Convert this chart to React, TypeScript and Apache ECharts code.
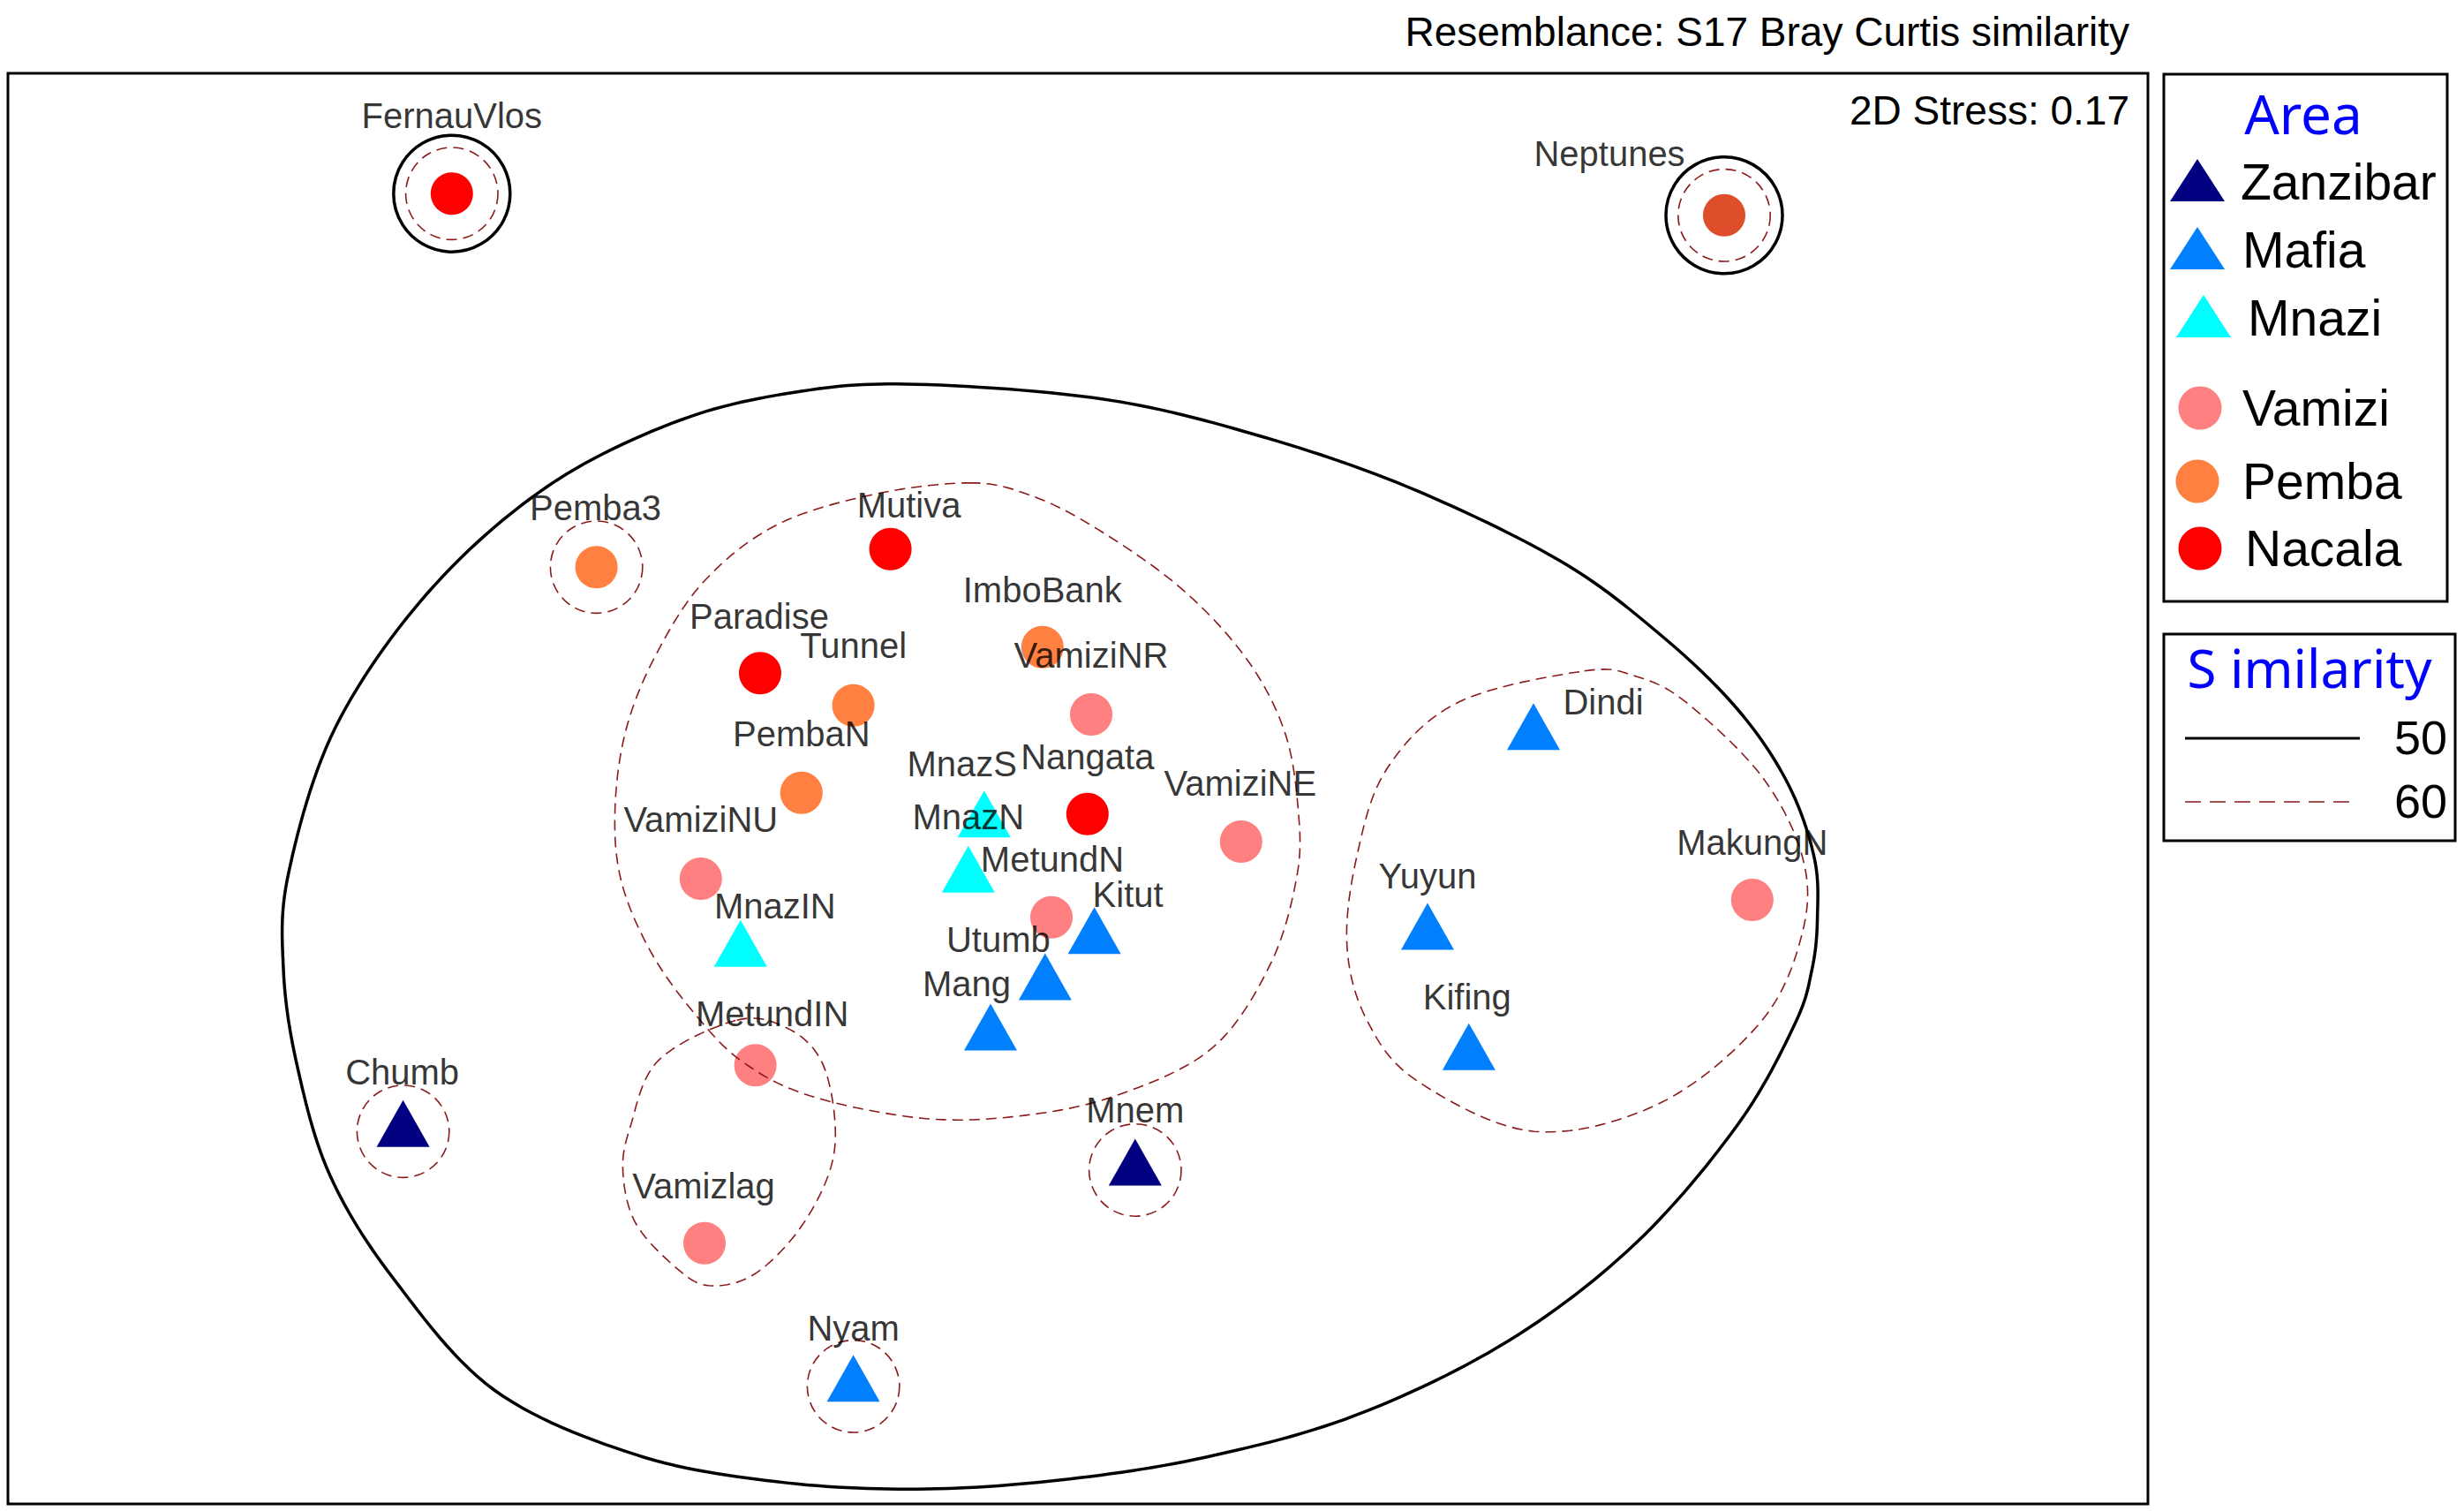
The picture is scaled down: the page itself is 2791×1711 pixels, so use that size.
import React, { useEffect, useRef } from "react";
import * as echarts from "echarts";

// ---- nMDS site coordinates (arbitrary MDS units) ----
const siteNames = ["FernauVlos", "Neptunes", "Pemba3", "Mutiva", "Paradise", "Tunnel", "ImboBank", "VamiziNR", "PembaN", "MnazS", "Nangata", "VamiziNE", "VamiziNU", "MnazN", "MetundN", "Kitut", "MnazIN", "Utumb", "Mang", "MetundIN", "Chumb", "Vamizlag", "Mnem", "Nyam", "Dindi", "Yuyun", "Kifing", "MakungN"];
const siteX = [-1.18, 1.222, -0.907, -0.352, -0.598, -0.422, -0.065, 0.027, -0.52, -0.175, 0.02, 0.31, -0.71, -0.205, -0.048, 0.033, -0.635, -0.06, -0.163, -0.607, -1.272, -0.703, 0.11, -0.422, 0.862, 0.662, 0.74, 1.275];
const siteY = [1.118, 1.077, 0.413, 0.447, 0.213, 0.152, 0.262, 0.135, -0.013, -0.068, -0.053, -0.105, -0.175, -0.172, -0.248, -0.288, -0.312, -0.375, -0.47, -0.527, -0.652, -0.863, -0.725, -1.133, 0.097, -0.28, -0.507, -0.215];
const siteArea = ["Nacala", "Nacala", "Pemba", "Nacala", "Nacala", "Pemba", "Pemba", "Vamizi", "Pemba", "Mnazi", "Nacala", "Vamizi", "Vamizi", "Mnazi", "Vamizi", "Mafia", "Mnazi", "Mafia", "Mafia", "Vamizi", "Zanzibar", "Vamizi", "Zanzibar", "Mafia", "Mafia", "Mafia", "Mafia", "Vamizi"];

// ---- legend / groups ----
const areaNames = ["Zanzibar", "Mafia", "Mnazi", "Vamizi", "Pemba", "Nacala"];
const similarityLevels = ["50", "60"];

// ---- similarity contours (MDS units) ----
const contour50Main = [
  [-0.302, 0.758], [0.05, 0.73], [0.337, 0.663], [0.623, 0.565], [0.912, 0.425], [1.102, 0.285], [1.247, 0.145], [1.342, 0.005], [1.392, -0.135], [1.398, -0.248], [1.388, -0.345], [1.355, -0.45], [1.247, -0.64], [1.055, -0.863], [0.815, -1.047], [0.528, -1.187], [0.242, -1.267], [-0.033, -1.31], [-0.3, -1.327], [-0.567, -1.313], [-0.833, -1.262], [-1.1, -1.14], [-1.29, -0.93], [-1.41, -0.735], [-1.472, -0.528], [-1.498, -0.345], [-1.488, -0.163], [-1.4, 0.11], [-1.225, 0.365], [-1.0, 0.565], [-0.75, 0.69], [-0.52, 0.745]
];
const contour60Central = [
  [-0.202, 0.572], [-0.092, 0.55], [0.027, 0.492], [0.192, 0.377], [0.318, 0.243], [0.392, 0.103], [0.418, -0.047], [0.415, -0.172], [0.365, -0.337], [0.255, -0.495], [0.072, -0.585], [-0.11, -0.623], [-0.293, -0.627], [-0.503, -0.585], [-0.632, -0.52], [-0.723, -0.428], [-0.805, -0.312], [-0.86, -0.18], [-0.872, -0.047], [-0.852, 0.103], [-0.797, 0.243], [-0.705, 0.385], [-0.568, 0.492], [-0.385, 0.55]
];
const contour60East = [
  [0.958, 0.217], [1.055, 0.207], [1.15, 0.158], [1.293, 0.018], [1.37, -0.135], [1.37, -0.275], [1.293, -0.443], [1.102, -0.598], [0.863, -0.652], [0.643, -0.557], [0.548, -0.443], [0.51, -0.303], [0.528, -0.135], [0.585, 0.032], [0.72, 0.158]
];
const contour60Lagoon = [
  [-0.642, -0.442], [-0.547, -0.457], [-0.483, -0.518], [-0.457, -0.63], [-0.467, -0.728], [-0.525, -0.838], [-0.61, -0.922], [-0.695, -0.943], [-0.758, -0.908], [-0.833, -0.825], [-0.857, -0.728], [-0.843, -0.643], [-0.79, -0.518]
];
const singleSites50 = ["FernauVlos", "Neptunes"];
const singleSites60 = ["FernauVlos", "Neptunes", "Pemba3", "Chumb", "Mnem", "Nyam"];
const singleRadius50 = 0.11;
const singleRadius60 = 0.087;

// ---- styling (kept apart from data) ----
const areaColors: Record<string, string> = { Zanzibar: "#000080", Mafia: "#0080FF", Mnazi: "#00FFFF", Vamizi: "#FF8080", Pemba: "#FF8040", Nacala: "#FF0000" };
const areaIsTriangle: Record<string, boolean> = { Zanzibar: true, Mafia: true, Mnazi: true, Vamizi: false, Pemba: false, Nacala: false };
const colorOverride: Record<string, string> = { Neptunes: "#DE4E2B" };
const labelOffsets: Record<string, number[]> = {
  FernauVlos: [0, -88], Neptunes: [-130, -70], Pemba3: [-1, -67], Mutiva: [21, -50], Paradise: [-1, -64], Tunnel: [0, -68], ImboBank: [0, -65], VamiziNR: [0, -67], PembaN: [0, -67], MnazS: [-25, -66], Nangata: [0, -65], VamiziNE: [-1, -66], VamiziNU: [0, -67], MnazN: [0, -68], MetundN: [1, -66], Kitut: [38, -50], MnazIN: [39, -51], Utumb: [-53, -51], Mang: [-27, -58], MetundIN: [19, -58], Chumb: [-1, -67], Vamizlag: [-1, -65], Mnem: [0, -68], Nyam: [0, -66], Dindi: [79, -37], Yuyun: [0, -66], Kifing: [-2, -65], MakungN: [0, -65]
};

const LABEL_FONT = '"Liberation Sans", Arial, sans-serif';
const TITLE_FONT = '"Noto Sans", "Open Sans", sans-serif';
const DASH_COLOR = "#8B1A1A";

// closed Catmull-Rom spline through pixel points
function closedSpline(pts: number[][], seg = 14): number[][] {
  const n = pts.length;
  const out: number[][] = [];
  for (let i = 0; i < n; i++) {
    const p0 = pts[(i - 1 + n) % n], p1 = pts[i], p2 = pts[(i + 1) % n], p3 = pts[(i + 2) % n];
    for (let k = 0; k < seg; k++) {
      const s = k / seg, s2 = s * s, s3 = s2 * s;
      const f = (a: number, b: number, c: number, d: number) =>
        0.5 * (2 * b + (-a + c) * s + (2 * a - 5 * b + 4 * c - d) * s2 + (-a + 3 * b - 3 * c + d) * s3);
      out.push([f(p0[0], p1[0], p2[0], p3[0]), f(p0[1], p1[1], p2[1], p3[1])]);
    }
  }
  return out;
}

export default function App() {
  const ref = useRef<HTMLDivElement>(null);

  useEffect(() => {
    document.body.style.margin = "0";
    document.body.style.overflow = "hidden";
    if (!ref.current) return;
    const chart = echarts.init(ref.current, undefined, { renderer: "svg" });

    const idx = (n: string) => siteNames.indexOf(n);

    type Contour = { level: number; kind: "poly" | "circle"; pts?: number[][]; center?: number[]; r?: number };
    const contours: Contour[] = [
      { level: 50, kind: "poly", pts: contour50Main },
      { level: 60, kind: "poly", pts: contour60Central },
      { level: 60, kind: "poly", pts: contour60East },
      { level: 60, kind: "poly", pts: contour60Lagoon },
      ...singleSites50.map((n) => ({ level: 50, kind: "circle" as const, center: [siteX[idx(n)], siteY[idx(n)]], r: singleRadius50 })),
      ...singleSites60.map((n) => ({ level: 60, kind: "circle" as const, center: [siteX[idx(n)], siteY[idx(n)]], r: singleRadius60 })),
    ];

    const markerSeries = areaNames.map((area) => {
      const tri = areaIsTriangle[area];
      const data = siteNames
        .map((n, i) => ({ n, i }))
        .filter((d) => siteArea[d.i] === area)
        .map((d) => ({
          name: d.n,
          value: [siteX[d.i], siteY[d.i]],
          itemStyle: colorOverride[d.n] ? { color: colorOverride[d.n] } : undefined,
        }));
      return {
        type: "scatter",
        name: area,
        data,
        symbol: tri ? "triangle" : "circle",
        symbolSize: tri ? [60, 53] : 48,
        symbolOffset: tri ? [0, -9] : [0, 0],
        itemStyle: { color: areaColors[area], opacity: 1 },
        z: 3,
        silent: true,
      };
    });

    const labelSeries = {
      type: "scatter",
      name: "labels",
      symbol: "rect",
      symbolSize: 1,
      itemStyle: { color: "transparent" },
      z: 6,
      silent: true,
      data: siteNames.map((n, i) => ({
        name: n,
        value: [siteX[i], siteY[i]],
        label: { offset: labelOffsets[n] || [0, -66] },
      })),
      label: {
        show: true,
        position: "inside",
        formatter: (p: any) => p.name,
        color: "#000",
        fontSize: 40,
        fontFamily: LABEL_FONT,
        align: "center",
        verticalAlign: "middle",
      },
    };

    const contourSeries = {
      type: "custom",
      name: "contours",
      coordinateSystem: "cartesian2d",
      silent: true,
      z: 4,
      data: contours.map((c) => (c.kind === "poly" ? c.pts![0] : c.center!)),
      renderItem: (params: any, api: any) => {
        const c = contours[params.dataIndex];
        const style: any =
          c.level === 50
            ? { stroke: "#000000", lineWidth: 3.5, fill: "none" }
            : { stroke: DASH_COLOR, lineWidth: 1.6, fill: "none", lineDash: [12, 7] };
        if (c.kind === "poly") {
          const px = c.pts!.map((p) => api.coord(p));
          return {
            type: "polygon",
            shape: { points: closedSpline(px) },
            style,
          };
        }
        const ctr = api.coord(c.center);
        const r = api.size([c.r, 0])[0];
        return { type: "circle", shape: { cx: ctr[0], cy: ctr[1], r }, style };
      },
    };

    // legend graphics (page pixels)
    const legendRows = [
      { y: 206, tri: true, cx: 2489, tx: 2538 },
      { y: 283, tri: true, cx: 2489, tx: 2540 },
      { y: 360, tri: true, cx: 2496, tx: 2546 },
      { y: 462, tri: false, cx: 2492, tx: 2540 },
      { y: 545, tri: false, cx: 2489, tx: 2540 },
      { y: 621, tri: false, cx: 2492, tx: 2543 },
    ];
    const graphics: any[] = [
      { type: "text", x: 2412, y: 36, style: { text: "Resemblance: S17 Bray Curtis similarity", fill: "#000", fontSize: 46, fontFamily: LABEL_FONT, align: "right", verticalAlign: "middle" } },
      { type: "text", x: 2412, y: 125, z: 10, style: { text: "2D Stress: 0.17", fill: "#000", fontSize: 46, fontFamily: LABEL_FONT, align: "right", verticalAlign: "middle" } },
      { type: "rect", shape: { x: 2451, y: 84, width: 321, height: 597 }, style: { fill: "#fff", stroke: "#000", lineWidth: 3 } },
      { type: "rect", shape: { x: 2451, y: 718, width: 330, height: 234 }, style: { fill: "#fff", stroke: "#000", lineWidth: 3 } },
      { type: "text", x: 2609, y: 128, style: { text: "Area", fill: "#0000FF", fontSize: 62, fontFamily: TITLE_FONT, align: "center", verticalAlign: "middle" } },
      { type: "text", x: 2616, y: 756, style: { text: "S imilarity", fill: "#0000FF", fontSize: 60, fontFamily: TITLE_FONT, align: "center", verticalAlign: "middle" } },
      { type: "line", shape: { x1: 2475, y1: 836, x2: 2673, y2: 836 }, style: { stroke: "#000", lineWidth: 3 } },
      { type: "line", shape: { x1: 2475, y1: 908, x2: 2671, y2: 908 }, style: { stroke: DASH_COLOR, lineWidth: 1.6, lineDash: [18, 10] } },
      { type: "text", x: 2772, y: 835, style: { text: similarityLevels[0], fill: "#000", fontSize: 54, fontFamily: LABEL_FONT, align: "right", verticalAlign: "middle" } },
      { type: "text", x: 2772, y: 907, style: { text: similarityLevels[1], fill: "#000", fontSize: 54, fontFamily: LABEL_FONT, align: "right", verticalAlign: "middle" } },
    ];
    legendRows.forEach((row, i) => {
      const color = areaColors[areaNames[i]];
      if (row.tri) {
        graphics.push({
          type: "polygon",
          shape: { points: [[row.cx, row.y - 26], [row.cx + 31, row.y + 22], [row.cx - 31, row.y + 22]] },
          style: { fill: color },
        });
      } else {
        graphics.push({ type: "circle", shape: { cx: row.cx, cy: row.y, r: 24.5 }, style: { fill: color } });
      }
      graphics.push({
        type: "text",
        x: row.tx,
        y: row.y,
        style: { text: areaNames[i], fill: "#000", fontSize: 57, fontFamily: LABEL_FONT, align: "left", verticalAlign: "middle" },
      });
    });

    chart.setOption({
      animation: false,
      backgroundColor: "#ffffff",
      grid: { left: 9, top: 83, width: 2424, height: 1620, show: true, borderColor: "#000", borderWidth: 3, backgroundColor: "transparent" },
      xAxis: { type: "value", min: -2.018, max: 2.022, show: false },
      yAxis: { type: "value", min: -1.355, max: 1.345, show: false },
      series: [...markerSeries, contourSeries, labelSeries],
      graphic: graphics,
    });

    return () => {
      chart.dispose();
    };
  }, []);

  return <div ref={ref} style={{ width: 2791, height: 1711 }} />;
}
